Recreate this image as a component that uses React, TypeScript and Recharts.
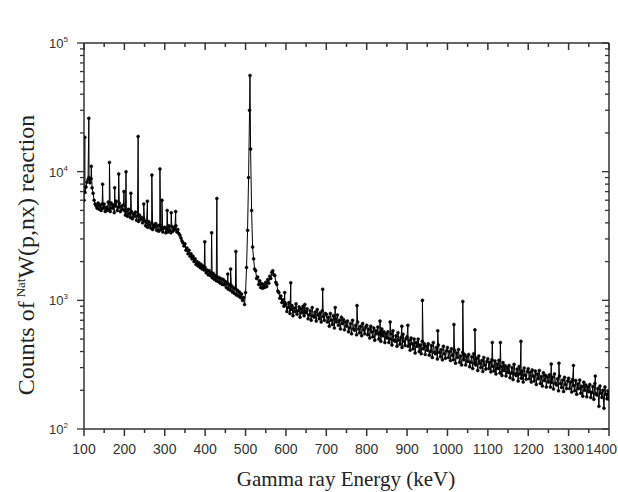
import React from "react";
import { LineChart, Line, XAxis, YAxis, ReferenceLine } from "recharts";

// continuum counts on a 2.5 keV grid starting at 100 keV (one row = 50 keV)
const GRID_START = 100;
const GRID_STEP = 2.5;
const continuum = [
  6000, 6900, 7600, 8300, 8700, 9000, 8200, 8800, 7500, 6800, 6000, 5600, 5400, 5200, 5700, 5100, 5500, 5000, 5600, 5200,
  5600, 4900, 5300, 5000, 5800, 5100, 4900, 5700, 5200, 5500, 4800, 5400, 5900, 5000, 5300, 5700, 4900, 5400, 5100, 5500,
  5000, 4600, 4900, 4500, 5100, 4700, 4400, 4900, 4300, 4700, 4500, 4850, 4200, 4550, 4100, 4600, 4250, 4400, 4000, 4300,
  4150, 3800, 4050, 3700, 4100, 3850, 3650, 4000, 3550, 3850, 3700, 3950, 3500, 3800, 3450, 3850, 3550, 3700, 3400, 3650,
  3700, 3350, 3600, 3400, 3800, 3500, 3350, 3750, 3450, 3700, 3550, 3800, 3400, 3550, 3300, 3200, 3050, 2900, 2800, 2650,
  2750, 2450, 2550, 2300, 2450, 2200, 2300, 2100, 2200, 2000, 2100, 1900, 2000, 1850, 1950, 1800, 1900, 1750, 1850, 1720,
  1800, 1640, 1720, 1580, 1700, 1560, 1640, 1500, 1620, 1460, 1560, 1420, 1520, 1400, 1500, 1360, 1470, 1330, 1450, 1320,
  1400, 1260, 1350, 1220, 1330, 1200, 1300, 1160, 1260, 1130, 1230, 1100, 1200, 1080, 1160, 1050, 1120, 1000, 1050, 930,
  1150, 1800, 3500, 9000, 30000, 15000, 5000, 2600, 2100, 1750, 1700, 1480, 1520, 1330, 1420, 1260, 1350, 1240, 1330, 1260,
  1380, 1280, 1450, 1360, 1540, 1480, 1650, 1700, 1580, 1560, 1380, 1330, 1180, 1150, 1040, 1080, 960, 1010, 900, 960,
  930, 820, 880, 960, 790, 850, 910, 760, 870, 820, 940, 780, 830, 890, 740, 860, 800, 900, 760, 820,
  800, 860, 720, 770, 830, 700, 880, 760, 740, 810, 690, 850, 770, 720, 800, 680, 830, 750, 700, 790,
  780, 680, 740, 630, 790, 700, 650, 760, 610, 720, 680, 770, 640, 700, 600, 740, 660, 710, 590, 680,
  630, 690, 570, 610, 660, 550, 700, 600, 585, 640, 540, 680, 600, 560, 630, 530, 660, 590, 550, 620,
  640, 540, 600, 510, 630, 570, 520, 610, 490, 580, 550, 620, 500, 560, 480, 600, 530, 570, 470, 550,
  510, 570, 470, 500, 550, 450, 580, 490, 480, 530, 440, 560, 490, 455, 515, 430, 545, 480, 445, 505,
  520, 440, 490, 410, 510, 460, 420, 500, 390, 470, 440, 500, 400, 450, 385, 480, 420, 460, 380, 440,
  410, 460, 375, 400, 445, 360, 470, 395, 385, 430, 350, 450, 395, 365, 415, 345, 440, 385, 355, 405,
  430, 360, 400, 340, 420, 375, 345, 410, 325, 390, 360, 415, 330, 370, 315, 395, 345, 380, 315, 365,
  335, 380, 305, 330, 365, 295, 385, 325, 315, 355, 285, 370, 325, 300, 340, 280, 360, 315, 292, 335,
  352, 295, 330, 278, 345, 308, 282, 338, 268, 320, 295, 342, 272, 305, 260, 328, 285, 312, 258, 300,
  275, 312, 250, 272, 300, 242, 318, 268, 260, 292, 236, 306, 268, 248, 282, 232, 298, 262, 244, 280,
  294, 246, 276, 232, 288, 258, 236, 282, 222, 268, 246, 285, 226, 256, 216, 274, 238, 262, 212, 254,
  232, 264, 212, 230, 254, 205, 268, 226, 220, 246, 198, 258, 226, 210, 240, 196, 252, 222, 206, 236,
  248, 206, 232, 194, 243, 218, 198, 238, 186, 225, 206, 240, 190, 215, 180, 231, 200, 220, 178, 212,
  195, 222, 176, 192, 214, 170, 226, 188, 184, 206, 150, 216, 190, 176, 200, 145, 212, 186, 172, 198,
  170,
];

// photopeaks: energy (keV) and counts at the peak channel
const peakEnergy = [
  102, 112, 118, 146, 163, 176, 186, 199, 204, 216,
  234, 248, 257, 268, 288, 293, 306, 316, 327, 399,
  416, 429, 456, 463, 476, 511, 597, 612, 647, 691,
  722, 776, 833, 858, 887, 902, 938, 976, 1016, 1038,
  1068, 1111, 1131, 1182, 1257, 1276, 1312, 1366,
];
const peakCounts = [
  18500, 26000, 11000, 8000, 11800, 7500, 9600, 7000, 10000, 6800,
  18800, 5600, 5900, 9400, 10500, 6000, 5000, 4800, 4900, 2850,
  3350, 6200, 1600, 1750, 2400, 56000, 1150, 1370, 930, 1220,
  880, 910, 690, 680, 630, 640, 1000, 580, 650, 980,
  590, 470, 470, 480, 320, 325, 312, 258,
];

const xTicks = [
  100, 150, 200, 250, 300, 350, 400, 450, 500, 550, 600, 650, 700,
  750, 800, 850, 900, 950, 1000, 1050, 1100, 1150, 1200, 1250, 1300, 1350, 1400,
];
const yTicks = [
  100, 200, 300, 400, 500, 600, 700, 800, 900,
  1000, 2000, 3000, 4000, 5000, 6000, 7000, 8000, 9000,
  10000, 20000, 30000, 40000, 50000, 60000, 70000, 80000, 90000,
  100000,
];

const spectrum = [
  ...continuum.map((c, i) => ({ e: GRID_START + i * GRID_STEP, c })),
  ...peakEnergy.map((e, i) => ({ e, c: peakCounts[i] })),
].sort((a, b) => a.e - b.e);

const W = 618;
const H = 492;
const PLOT = { left: 84, right: 609, top: 43, bottom: 429 };
const AXIS = "#333";
const SANS = "'Liberation Sans', Arial, sans-serif";
const SERIF = "'Liberation Serif', 'Times New Roman', serif";

function EnergyTick(props: any) {
  const { x, payload } = props;
  const v = payload.value;
  const major = v % 100 === 0;
  const len = major ? 7 : 4;
  // the last label sits on the right frame, keep it inside the page
  const last = v === 1400;
  return (
    <g>
      <line x1={x} x2={x} y1={PLOT.bottom} y2={PLOT.bottom + len} stroke={AXIS} strokeWidth={1.5} />
      <line x1={x} x2={x} y1={PLOT.top} y2={PLOT.top + len} stroke={AXIS} strokeWidth={1.5} />
      {major && (
        <text
          x={last ? W - 1 : x}
          y={PLOT.bottom + 25}
          textAnchor={last ? "end" : "middle"}
          fontSize={14}
          fontFamily={SANS}
          fill="#333"
        >
          {v}
        </text>
      )}
    </g>
  );
}

function CountTick(props: any) {
  const { y, payload } = props;
  const v = payload.value;
  const exp = Math.log10(v);
  const major = Math.abs(exp - Math.round(exp)) < 1e-9;
  const len = major ? 7 : 4;
  return (
    <g>
      <line x1={PLOT.left - len} x2={PLOT.left} y1={y} y2={y} stroke={AXIS} strokeWidth={1.3} />
      <line x1={PLOT.right - len} x2={PLOT.right} y1={y} y2={y} stroke={AXIS} strokeWidth={1.3} />
      {major && (
        <text x={68} y={y + 5} textAnchor="end" fontSize={13} fontFamily={SANS} fill="#333">
          10
          <tspan dy={-6} fontSize={8}>
            {Math.round(exp)}
          </tspan>
        </text>
      )}
    </g>
  );
}

export default function App() {
  return (
    <div style={{ position: "absolute", left: 0, top: 0, width: W, height: H, background: "#fff" }}>
      <LineChart
        width={W}
        height={H}
        data={spectrum}
        margin={{ top: PLOT.top, right: W - PLOT.right, bottom: 33, left: 24 }}
      >
        <XAxis
          dataKey="e"
          type="number"
          domain={[100, 1400]}
          ticks={xTicks}
          interval={0}
          tickLine={false}
          tick={<EnergyTick />}
          axisLine={{ stroke: AXIS, strokeWidth: 1.5 }}
          height={30}
          allowDataOverflow
        />
        <YAxis
          type="number"
          scale="log"
          domain={[100, 100000]}
          ticks={yTicks}
          interval={0}
          tickLine={false}
          tick={<CountTick />}
          axisLine={{ stroke: AXIS, strokeWidth: 1.5 }}
          width={60}
          allowDataOverflow
        />
        <ReferenceLine y={100000} stroke={AXIS} strokeWidth={1.5} />
        <ReferenceLine x={1400} stroke={AXIS} strokeWidth={1.5} />
        <Line
          type="linear"
          dataKey="c"
          stroke="#000"
          strokeWidth={1}
          dot={{ r: 1.5, fill: "#000", stroke: "#000", strokeWidth: 0.5 }}
          isAnimationActive={false}
        />
      </LineChart>
      <svg width={W} height={H} style={{ position: "absolute", left: 0, top: 0, pointerEvents: "none" }}>
        <text x={346} y={486} textAnchor="middle" fontSize={21} fontFamily={SERIF} fill="#222">
          Gamma ray Energy (keV)
        </text>
        <text
          x={0}
          y={0}
          transform="translate(34 255) rotate(-90)"
          textAnchor="middle"
          fontSize={24}
          fontFamily={SERIF}
          fill="#222"
        >
          Counts of
          <tspan dx={4} dy={-9} fontSize={13}>Nat</tspan>
          <tspan dy={9}>W(p,nx) reaction</tspan>
        </text>
      </svg>
    </div>
  );
}
